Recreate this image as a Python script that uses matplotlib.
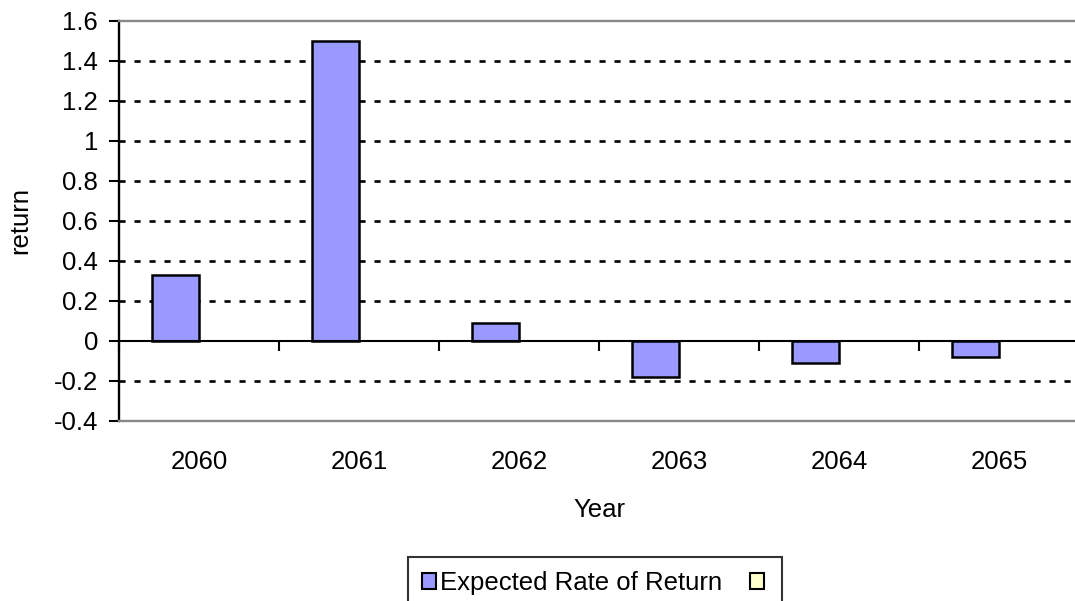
import numpy as np
import matplotlib.pyplot as plt
from matplotlib.patches import Patch

plt.rcParams['font.family'] = ['Liberation Sans', 'DejaVu Sans']
plt.rcParams['lines.scale_dashes'] = False

# data
years = ['2060', '2061', '2062', '2063', '2064', '2065']
expected_return = [0.33, 1.50, 0.09, -0.178, -0.112, -0.082]
series_names = ['Expected Rate of Return', '']

fs = 18.5

fig = plt.figure(figsize=(10.75, 6.01), dpi=100)
ax = fig.add_axes([119 / 1075, 180 / 601, 960 / 1075, 400 / 601])

x = np.arange(len(years))
bar_w = 0.294
ax.bar(x - bar_w / 2, expected_return, width=bar_w, color='#9999FF',
       edgecolor='black', linewidth=1.8, zorder=3)

ax.set_xlim(-0.5, len(years) - 0.5)
ax.set_ylim(-0.4, 1.6)
ax.set_yticks(np.arange(-0.4, 1.61, 0.2))
ax.set_yticklabels(['-0.4', '-0.2', '0', '0.2', '0.4', '0.6', '0.8', '1', '1.2', '1.4', '1.6'])

# dashed gridlines
for v in np.arange(-0.2, 1.5, 0.2):
    if abs(v) > 1e-9:
        ax.axhline(v, color='black', linewidth=1.9, linestyle=(0, (4.4, 6.4)), zorder=1)
ax.axhline(0, color='black', linewidth=1.5, zorder=4)

for side in ['top', 'bottom']:
    ax.spines[side].set_color('#888888')
    ax.spines[side].set_linewidth(1.7)
ax.spines['right'].set_visible(False)
ax.spines['left'].set_linewidth(1.7)

ax.tick_params(axis='y', direction='out', length=7, width=1.5, pad=8, labelsize=fs)
ax.set_xticks(x)
ax.set_xticklabels(years)
ax.tick_params(axis='x', length=0, pad=21, labelsize=fs)

# category boundary ticks on the zero line
sec = ax.secondary_xaxis(0.4 / 2.0)
sec.set_xticks(np.arange(-0.5, len(years), 1.0))
sec.set_xticklabels([])
sec.tick_params(direction='out', length=7, width=1.5)
sec.spines['bottom'].set_visible(False)

ax.set_ylabel('return', fontsize=fs, va='center')
ax.yaxis.set_label_coords((20 - 119) / 960, 0.5)
ax.set_xlabel('Year', fontsize=fs, va='center')
ax.xaxis.set_label_coords(0.5, (421 - 510) / 400)

handles = [Patch(facecolor='#9999FF', edgecolor='black', linewidth=1.5),
           Patch(facecolor='#FFFFCC', edgecolor='black', linewidth=1.5)]
leg = fig.legend(handles, series_names, ncol=2, loc='upper center',
                 bbox_to_anchor=(595 / 1075, 1 - 557 / 601), fontsize=fs,
                 frameon=True, fancybox=False, handlelength=0.55, handleheight=0.55,
                 handletextpad=0.15, columnspacing=1.1, borderpad=0.55,
                 borderaxespad=0)
leg.get_frame().set_edgecolor('black')
leg.get_frame().set_linewidth(1.5)

fig.savefig('out.png', dpi=100)
